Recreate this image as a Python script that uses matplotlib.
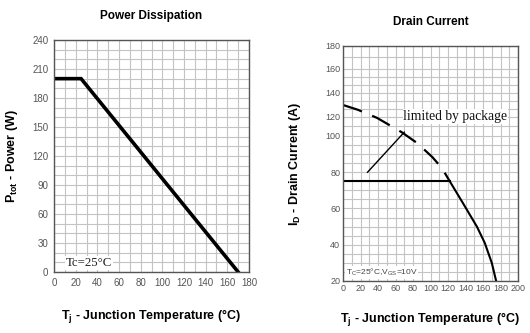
import numpy as np
import matplotlib
matplotlib.use("Agg")
import matplotlib.pyplot as plt
from matplotlib.scale import FuncScale

plt.rcParams['font.family'] = ['Liberation Sans', 'DejaVu Sans']
plt.rcParams['mathtext.fontset'] = 'custom'
plt.rcParams['mathtext.rm'] = 'Liberation Sans'
plt.rcParams['mathtext.bf'] = 'Liberation Sans:bold'

# ---- data: power dissipation ----
pd_temp = [0, 25, 170]
pd_power = [200, 200, 0]

# ---- data: drain current ----
silicon_temp = [0, 17, 39, 67, 85, 102, 113, 122]
silicon_id = [130, 126, 119, 104, 96, 88.4, 82.3, 75]
package_temp = [0, 122]
package_id = [75, 75]
derate_temp = [122, 137, 153, 162, 170, 175]
derate_id = [75, 63, 50, 41, 30, 20]

# odd, hand-drawn y axis of the datasheet: tick value -> relative position
id_ticks = [20, 100, 120, 140, 160, 180]
id_pos = [0, 145, 164, 188, 212, 235]

def fwd(v):
    return np.interp(v, id_ticks, id_pos)

def inv(p):
    return np.interp(p, id_pos, id_ticks)

grid_c = '#c4c4c4'
tick_c = '#555555'
frame_c = '#555555'

fig = plt.figure(figsize=(5.30, 3.33), dpi=100)

# ---------------- left chart ----------------
ax1 = fig.add_axes([0.1019, 0.1832, 0.3679, 0.6967])
ax1.plot(pd_temp, pd_power, color='black', lw=2.6, solid_joinstyle='miter')
ax1.set_xlim(0, 180)
ax1.set_ylim(0, 240)
ax1.set_xticks(np.arange(0, 181, 20))
ax1.set_yticks(np.arange(0, 241, 30))
ax1.set_xticks(np.arange(0, 181, 10), minor=True)
ax1.set_yticks(np.arange(0, 241, 10), minor=True)
ax1.grid(which='both', color=grid_c, lw=0.8)
ax1.set_axisbelow(True)
ax1.tick_params(which='both', length=0, labelsize=7, colors=tick_c, pad=4)
for s in ax1.spines.values():
    s.set_color(frame_c)
    s.set_linewidth(1.0)
ax1.text(11, 3, 'Tc=25°C', family='Liberation Serif', fontsize=9.3,
         color='#222222', va='bottom', ha='left',
         bbox=dict(facecolor='white', edgecolor='none', pad=0.5))
ax1.set_title('Power Dissipation', fontsize=8.5, fontweight='bold', pad=15)
ax1.set_ylabel(r'$\mathbf{P}_{\mathbf{tot}}$ - Power (W)', fontsize=9,
               fontweight='bold', labelpad=9)
ax1.set_xlabel(r'$\mathbf{T}_{\mathbf{j}}$ - Junction Temperature (°C)',
               fontsize=9, fontweight='bold', labelpad=15)

# ---------------- right chart ----------------
ax2 = fig.add_axes([0.6472, 0.1562, 0.3302, 0.7057])
ax2.set_yscale(FuncScale(ax2.yaxis, (fwd, inv)))
ax2.plot(silicon_temp, silicon_id, color='black', lw=1.6, ls=(0, (9, 5)))
ax2.plot(package_temp, package_id, color='black', lw=1.5)
ax2.plot(derate_temp, derate_id, color='black', lw=1.5)
ax2.plot([28, 70], [80, 104], color='black', lw=1.0)
ax2.set_xlim(0, 200)
ax2.set_ylim(20, 180)
ax2.set_xticks(np.arange(0, 201, 20))
ax2.set_yticks([20, 40, 60, 80, 100, 120, 140, 160, 180])
ax2.set_xticks(np.arange(0, 201, 10), minor=True)
ax2.set_yticks(list(np.arange(20, 101, 5)) + [110, 126.7, 133.3, 146.7,
                                             153.3, 170], minor=True)
ax2.grid(which='both', color=grid_c, lw=0.8)
ax2.set_axisbelow(True)
ax2.tick_params(which='both', length=0, labelsize=6.5, colors=tick_c, pad=2)
for s in ax2.spines.values():
    s.set_color(frame_c)
    s.set_linewidth(1.0)
ax2.text(69, 120.5, 'limited by package', family='Liberation Serif',
         fontsize=9.8, color='#111111', va='center', ha='left',
         bbox=dict(facecolor='white', edgecolor='none', pad=0.5))
ax2.text(3, 21.5, r'T$_\mathrm{C}$=25°C,V$_\mathrm{GS}$=10V', fontsize=6,
         color='#444444', va='bottom', ha='left',
         bbox=dict(facecolor='white', edgecolor='none', pad=0.3))
ax2.set_title('Drain Current', fontsize=8.5, fontweight='bold', pad=15)
ax2.set_ylabel(r'$\mathbf{I}_{\mathbf{D}}$ - Drain Current (A)', fontsize=9,
               fontweight='bold', labelpad=16)
ax2.set_xlabel(r'$\mathbf{T}_{\mathbf{j}}$ - Junction Temperature (°C)',
               fontsize=9, fontweight='bold', labelpad=13)

fig.savefig('out.png', dpi=100, facecolor='white')
